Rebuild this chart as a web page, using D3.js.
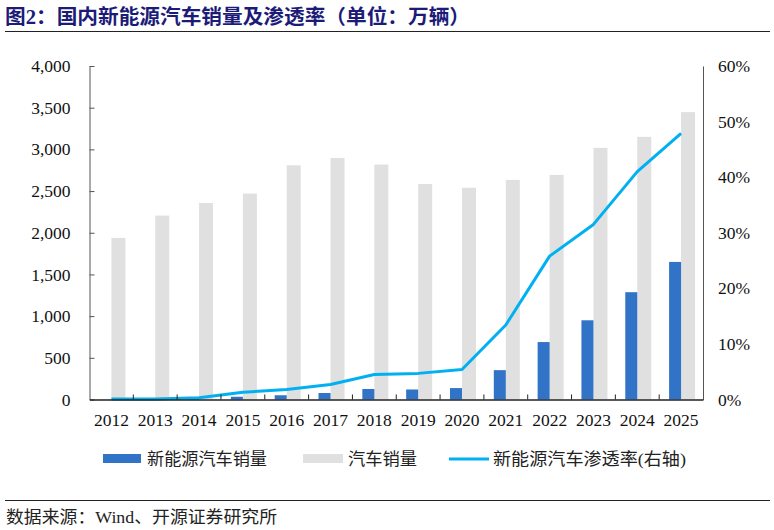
<!DOCTYPE html>
<html><head><meta charset="utf-8">
<script src="https://cdn.jsdelivr.net/npm/d3@7"></script>
<style>
body{margin:0;background:#fff;}
.serif{font-family:'Liberation Serif','Tinos','Times New Roman','DejaVu Serif',serif !important;}
</style></head>
<body><svg id="c" width="774" height="530"></svg>
<script>
const years = ["2012","2013","2014","2015","2016","2017","2018","2019","2020","2021","2022","2023","2024","2025"];
const nevSales = [1.3,1.8,7.5,33,51,78,126,120,137,352,689,950,1287,1650];
const totalSales = [1938,2206,2357,2470,2809,2897,2818,2585,2540,2634,2694,3018,3150,3447];
const penetration = [0.1,0.1,0.3,1.3,1.8,2.7,4.5,4.7,5.4,13.4,25.8,31.5,41.0,47.9];
const leftTicks = [0,500,1000,1500,2000,2500,3000,3500,4000];
const rightTicks = [0,10,20,30,40,50,60];

const svg = d3.select("#c");
const L=89.5,R=703,T=66,B=399.5;
const x = d3.scaleBand().domain(years).range([L,R]).padding(0);
const yL = d3.scaleLinear().domain([0,4000]).range([B,T]);
const yR = d3.scaleLinear().domain([0,60]).range([B,T]);
const cjk = "'Noto Sans CJK SC','Noto Sans CJK JP',sans-serif";
const mixed = "'Liberation Serif','Noto Sans CJK SC',serif";

// title
svg.append("text").attr("x",5).attr("y",23.5).attr("font-size",20).attr("font-weight","bold")
  .attr("fill","#1c1c78").attr("font-family",mixed)
  .attr("textLength",465).attr("lengthAdjust","spacingAndGlyphs")
  .text("图2：国内新能源汽车销量及渗透率（单位：万辆）");
svg.append("line").attr("x1",5).attr("x2",770).attr("y1",31.5).attr("y2",31.5).attr("stroke","#222").attr("stroke-width",1.2);

// bars
const bw1=12, bw2=14;
svg.append("g").selectAll("rect").data(years).join("rect")
  .attr("x",d=>x(d)+x.bandwidth()/2).attr("width",bw2)
  .attr("y",(d,i)=>yL(totalSales[i])).attr("height",(d,i)=>B-yL(totalSales[i]))
  .attr("fill","#e0e0e0");
svg.append("g").selectAll("rect").data(years).join("rect")
  .attr("x",d=>x(d)+x.bandwidth()/2-bw1).attr("width",bw1)
  .attr("y",(d,i)=>yL(nevSales[i])).attr("height",(d,i)=>B-yL(nevSales[i]))
  .attr("fill","#3174c7");

// line
const line = d3.line().x((d,i)=>x(years[i])+x.bandwidth()/2).y(d=>yR(d));
svg.append("path").datum(penetration).attr("d",line).attr("fill","none")
  .attr("stroke","#00b0f0").attr("stroke-width",3).attr("stroke-linejoin","round");

// left axis
const gl = svg.append("g").attr("transform",`translate(${L},0)`)
  .call(d3.axisLeft(yL).tickValues(leftTicks).tickFormat(d3.format(",")).tickSizeInner(-5).tickSizeOuter(0).tickPadding(19));
gl.select(".domain").attr("stroke","#555");
gl.selectAll(".tick line").attr("stroke","#555");
gl.selectAll("text").attr("font-size",17.5).attr("fill","#111").attr("class","serif");

// right axis
const gr = svg.append("g").attr("transform",`translate(${R},0)`)
  .call(d3.axisRight(yR).tickValues(rightTicks).tickFormat(d=>d+"%").tickSizeInner(0).tickSizeOuter(0).tickPadding(15));
gr.select(".domain").attr("stroke","#555");
gr.selectAll("text").attr("font-size",17.5).attr("fill","#111").attr("class","serif");

// bottom axis
const gb = svg.append("g").attr("transform",`translate(0,${B})`)
  .call(d3.axisBottom(x).tickSize(0).tickPadding(14));
gb.select(".domain").attr("stroke","#222").attr("stroke-width",1.3);
gb.selectAll("text").attr("font-size",17.5).attr("fill","#111").attr("class","serif");
svg.append("g").selectAll("line").data(years.slice(1)).join("line")
  .attr("x1",d=>x(d)).attr("x2",d=>x(d)).attr("y1",B).attr("y2",B-5).attr("stroke","#222");

// legend
const lg = svg.append("g");
lg.append("rect").attr("x",103).attr("y",454).attr("width",38).attr("height",9).attr("fill","#3174c7");
lg.append("text").attr("x",147).attr("y",465).attr("font-size",17).attr("font-family",mixed).attr("fill","#222")
  .attr("textLength",120).attr("lengthAdjust","spacingAndGlyphs").text("新能源汽车销量");
lg.append("rect").attr("x",303).attr("y",454).attr("width",40).attr("height",9).attr("fill","#e0e0e0");
lg.append("text").attr("x",348).attr("y",465).attr("font-size",17).attr("font-family",mixed).attr("fill","#222")
  .attr("textLength",69).attr("lengthAdjust","spacingAndGlyphs").text("汽车销量");
lg.append("line").attr("x1",449).attr("x2",489).attr("y1",459).attr("y2",459).attr("stroke","#00b0f0").attr("stroke-width",3);
lg.append("text").attr("x",493).attr("y",465).attr("font-size",17).attr("fill","#222").attr("font-family",mixed)
  .attr("textLength",193).attr("lengthAdjust","spacingAndGlyphs").text("新能源汽车渗透率(右轴)");

// footer
svg.append("line").attr("x1",5).attr("x2",770).attr("y1",500.5).attr("y2",500.5).attr("stroke","#222").attr("stroke-width",1.2);
svg.append("text").attr("x",6).attr("y",523).attr("font-size",17).attr("fill","#222").attr("font-family",mixed)
  .attr("textLength",271).attr("lengthAdjust","spacingAndGlyphs").text("数据来源：Wind、开源证券研究所");
</script></body></html>
